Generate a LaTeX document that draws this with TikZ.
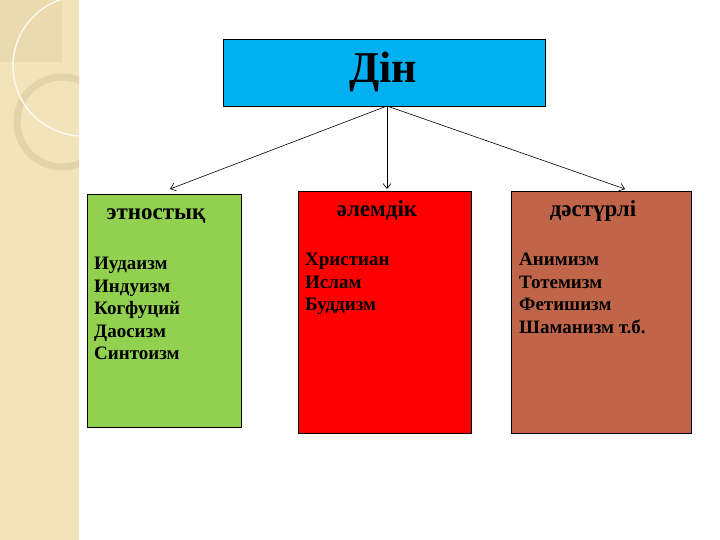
\documentclass[tikz,border=0pt]{standalone}
\usepackage{fontspec}
\setmainfont{Liberation Serif}
\usetikzlibrary{arrows.meta}
\definecolor{strip}{HTML}{F2E3BA}
\definecolor{stripdark}{HTML}{EADAAE}
\definecolor{ring}{HTML}{E3D3AA}
\definecolor{topblue}{HTML}{00B0F0}
\definecolor{grn}{HTML}{92D050}
\definecolor{rd}{HTML}{FF0000}
\definecolor{brn}{HTML}{C0654A}
\tikzset{
  catbox/.style={draw=black, line width=0.8pt, anchor=north west, inner sep=0pt},
  cattitle/.style={font=\bfseries\fontsize{23}{26}\selectfont, inner sep=0pt, anchor=base},
  itemlist/.style={font=\bfseries\fontsize{19}{22.5}\selectfont, anchor=north west, align=left, inner sep=0pt},
  conn/.style={line width=0.6pt, -{Straight Barb[length=5pt,width=8pt]}}
}
\begin{document}
\begin{tikzpicture}[x=1pt,y=-1pt]
\useasboundingbox (0,0) rectangle (720,540);
\fill[white] (0,0) rectangle (720,540);
% left decorative strip
\begin{scope}
\clip (0,0) rectangle (79,540);
\fill[strip] (0,0) rectangle (79,540);
\fill[stripdark] (0,0) rectangle (62,62);
\draw[ring, line width=7pt] (62,122) circle[radius=45];
\draw[white!80!strip, line width=1.5pt] (83,66) circle[radius=70];
\end{scope}
% boxes
\node[draw=black, line width=0.8pt, fill=topblue, minimum width=322pt, minimum height=67pt, anchor=north west, inner sep=0pt] (din) at (223,39) {};
\node[font=\bfseries\fontsize{44}{48}\selectfont, anchor=base, inner sep=0pt] (dint) at (383,83) {Дін};
\node[catbox, fill=grn, minimum width=154pt, minimum height=233pt] (eth) at (87,194) {};
\node[catbox, fill=rd, minimum width=173pt, minimum height=242pt] (wld) at (298,191) {};
\node[catbox, fill=brn, minimum width=180pt, minimum height=242pt] (trd) at (511,191) {};
% titles
\node[cattitle] (etht) at (156,219) {этностық};
\node[cattitle] (wldt) at (377,217) {әлемдік};
\node[cattitle] (trdt) at (593,217) {дәстүрлі};
% lists
\node[itemlist] (ethl) at (94,257) {Иудаизм\\Индуизм\\Когфуций\\Даосизм\\Синтоизм};
\node[itemlist] (wldl) at (305,253) {Христиан\\Ислам\\Буддизм};
\node[itemlist] (trdl) at (519,253) {Анимизм\\Тотемизм\\Фетишизм\\Шаманизм т.б.};
% connectors
\coordinate (src) at (387,106);
\coordinate (e1) at (170,189);
\coordinate (e2) at (387,189);
\coordinate (e3) at (625,189);
\draw[conn] (src) -- (e1);
\draw[conn] (src) -- (e2);
\draw[conn] (src) -- (e3);
\end{tikzpicture}
\end{document}
